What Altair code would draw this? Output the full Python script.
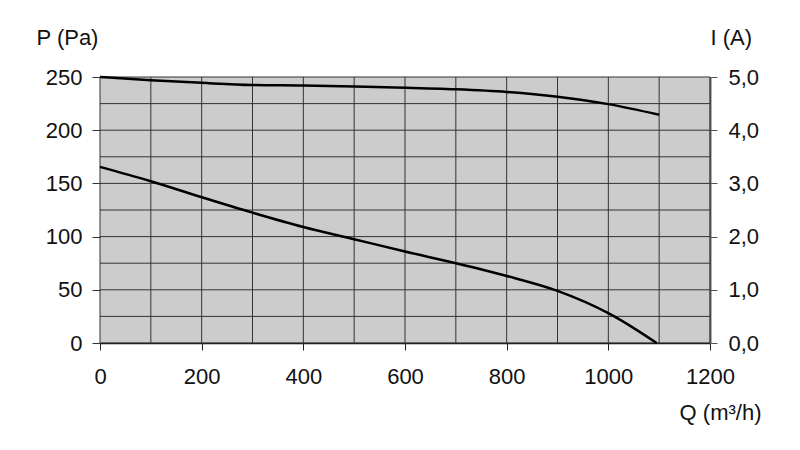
import altair as alt
import pandas as pd

# Airflow grid and axis values
q_grid = list(range(0, 1300, 100))
p_grid = list(range(0, 275, 25))
q_ticks = [0, 200, 400, 600, 800, 1000, 1200]
p_ticks = [0, 50, 100, 150, 200, 250]
i_ticks = [0, 1, 2, 3, 4, 5]

# Pressure curve (Pa)
q_p = [0, 100, 200, 300, 400, 500, 600, 700, 800, 900, 1000, 1050, 1095]
p_vals = [165.5, 152, 137, 122.5, 109, 97.5, 86, 75, 63, 49, 28, 14, 0]

# Current curve (A)
q_i = [0, 100, 200, 300, 400, 500, 600, 700, 800, 900, 1000, 1100]
i_vals = [5.0, 4.94, 4.89, 4.85, 4.84, 4.82, 4.80, 4.77, 4.72, 4.63, 4.49, 4.29]

FONT = "Liberation Sans"
FS = 22

df_qg = pd.DataFrame({"Q": q_grid})
df_pg = pd.DataFrame({"P": p_grid})
df_p = pd.DataFrame({"Q": q_p, "P": p_vals})
df_i = pd.DataFrame({"Q": q_i, "I": i_vals})

xscale = alt.Scale(domain=[0, 1200], nice=False)
pscale = alt.Scale(domain=[0, 250], nice=False)
iscale = alt.Scale(domain=[0, 5], nice=False)

x_axis = alt.Axis(
    values=q_ticks, grid=False, format="d", labelFlush=False,
    title="Q (m³/h)", titleAngle=0,
    titleX=661, titleY=76, titleAlign="right", titleBaseline="alphabetic",
    titleFont=FONT, titleFontSize=FS, titleFontWeight="normal", titleColor="#111111",
    labelFont=FONT, labelFontSize=FS, labelColor="#111111", labelPadding=16,
    tickSize=7, tickColor="#222222", domainColor="#111111", domainWidth=1.5,
)

vgrid = alt.Chart(df_qg).mark_rule(color="#333333", strokeWidth=1).encode(
    x=alt.X("Q:Q", scale=xscale, axis=x_axis)
)
hgrid = alt.Chart(df_pg).mark_rule(color="#333333", strokeWidth=1).encode(
    y=alt.Y("P:Q", scale=pscale, axis=None)
)

p_line = alt.Chart(df_p).mark_line(color="#000000", strokeWidth=2.5, interpolate="monotone").encode(
    x=alt.X("Q:Q", scale=xscale, axis=x_axis),
    y=alt.Y("P:Q", scale=pscale, axis=alt.Axis(
        orient="left", values=p_ticks, grid=False, domain=False, labelFlush=False,
        title="P (Pa)", titleAngle=0, titleAlign="left", titleBaseline="alphabetic",
        titleX=-64, titleY=-33,
        titleFont=FONT, titleFontSize=FS, titleFontWeight="normal", titleColor="#111111",
        labelFont=FONT, labelFontSize=FS, labelColor="#111111", labelPadding=10,
        tickSize=8, tickColor="#333333",
    )),
)

i_line = alt.Chart(df_i).mark_line(color="#000000", strokeWidth=2.5, interpolate="monotone").encode(
    x=alt.X("Q:Q", scale=xscale, axis=x_axis),
    y=alt.Y("I:Q", scale=iscale, axis=alt.Axis(
        orient="right", values=i_ticks, grid=False, labelFlush=False,
        labelExpr="replace(format(datum.value, '.1f'), '.', ',')",
        title="I (A)", titleAngle=0, titleAlign="left", titleBaseline="alphabetic",
        titleX=0, titleY=-33,
        titleFont=FONT, titleFontSize=FS, titleFontWeight="normal", titleColor="#111111",
        labelFont=FONT, labelFontSize=FS, labelColor="#111111", labelPadding=11,
        tickSize=7, tickColor="#555555", domainColor="#666666", domainWidth=2,
    )),
)

chart = (
    alt.layer(vgrid, hgrid, p_line, i_line)
    .resolve_scale(y="independent")
    .properties(
        width=610, height=266,
        autosize=alt.AutoSizeParams(type="none"),
        padding={"left": 92, "top": 69, "right": 82, "bottom": 99},
        background="white",
    )
    .configure_view(fill="#cccccc", stroke=None)
)

chart.save("out.html", embed_options={"renderer": "svg", "actions": False})
